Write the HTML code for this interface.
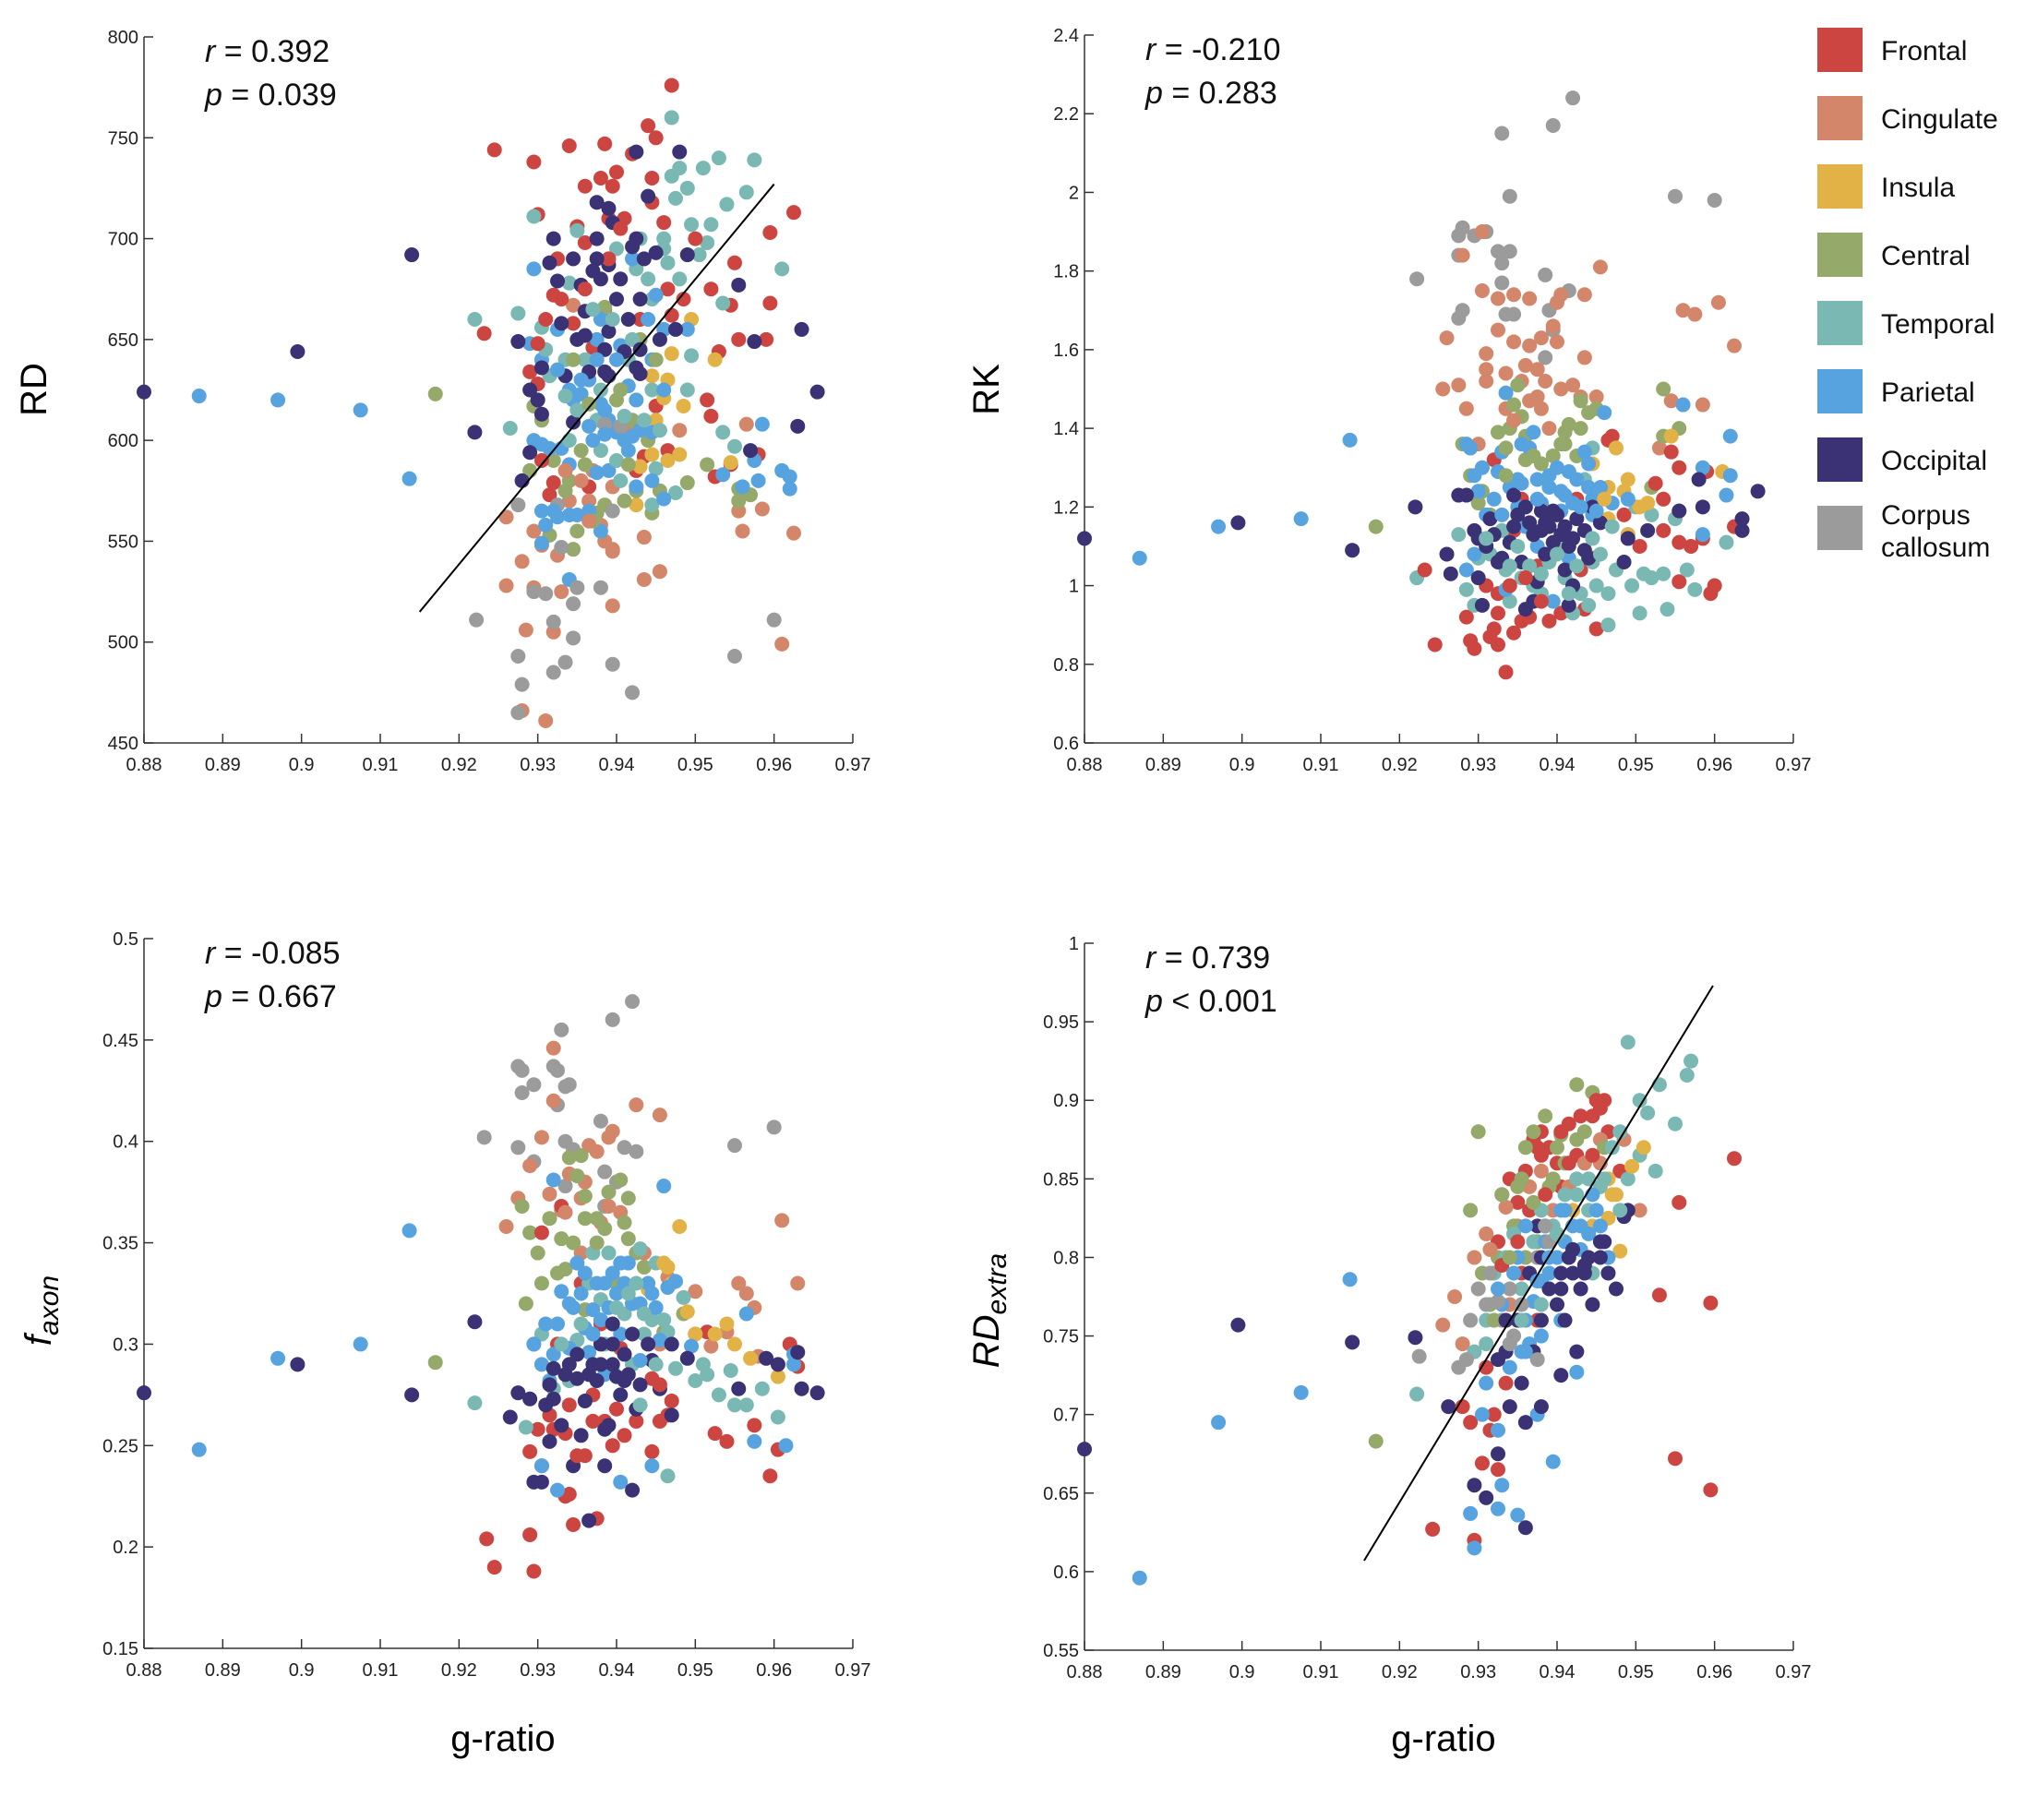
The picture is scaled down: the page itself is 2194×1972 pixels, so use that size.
<!DOCTYPE html>
<html><head><meta charset="utf-8"><style>
html,body{margin:0;padding:0;background:#fff;}
svg{display:block;font-family:"Liberation Sans",sans-serif;}
</style></head><body>
<svg id="fig" width="2194" height="1972" viewBox="0 0 2194 1972" xmlns="http://www.w3.org/2000/svg"></svg>
<script>
const regionNames=["Frontal","Cingulate","Insula","Central","Temporal","Parietal","Occipital","Corpus callosum"];
const regionColors=["#cc4541","#d4866a","#e3b246","#95a96a","#7ab8b4","#56a3e0","#3a3274","#9b9b9b"];
const xTicks=[0.88,0.89,0.9,0.91,0.92,0.93,0.94,0.95,0.96,0.97];
const xTickLabels=["0.88","0.89","0.9","0.91","0.92","0.93","0.94","0.95","0.96","0.97"];

const rdTicks=[450,500,550,600,650,700,750,800];
const rdPts=[[.880,624,6],[.887,622,5],[.897,620,5],[.8995,644,6],[.9075,615,5],[.914,692,6],[.9137,581,5],[.917,623,3],[.922,604,6],[.9232,653,0],[.9245,744,0],[.9222,511,7],[.922,660,4],
[.9295,738,0],[.934,746,0],[.9385,747,0],[.942,742,0],[.944,756,0],[.945,750,0],[.947,776,0],[.940,733,0],[.9445,730,0],[.9395,726,0],[.936,726,0],[.938,730,0],[.9445,718,0],[.941,710,0],[.946,708,0],[.939,710,0],[.935,706,0],[.930,712,0],[.9325,690,0],[.936,698,0],[.932,672,0],[.9385,665,0],[.943,660,0],[.9465,675,0],[.947,662,0],[.952,675,0],[.955,688,0],[.9595,703,0],[.9625,713,0],[.9595,668,0],[.9545,667,0],[.9555,650,0],[.959,650,0],[.953,644,0],[.945,617,0],[.9515,620,0],[.952,612,0],[.9525,582,0],[.9545,588,0],[.958,593,0],[.9465,595,0],[.929,634,0],[.930,628,0],[.932,579,0],[.9315,573,0],[.9365,577,0],[.9425,585,0],[.9435,592,0],[.9345,658,0],[.937,646,0],
[.926,562,1],[.928,540,1],[.926,528,1],[.9285,506,1],[.9295,527,1],[.932,505,1],[.928,466,1],[.931,461,1],[.9295,555,1],[.9305,548,1],[.9325,543,1],[.933,525,1],[.9365,570,1],[.938,558,1],[.9385,550,1],[.9395,546,1],[.9395,518,1],[.9435,531,1],[.9435,552,1],[.9455,535,1],[.9415,605,1],[.948,605,1],[.9565,608,1],[.9555,565,1],[.956,555,1],[.9585,566,1],[.9625,554,1],[.961,499,1],[.934,570,1],[.937,585,1],[.9395,577,1],[.9345,667,1],
[.9495,660,2],[.9485,617,2],[.9465,630,2],[.945,610,2],[.9445,593,2],[.943,587,2],[.9425,568,2],[.9465,590,2],[.948,593,2],[.9545,589,2],[.9525,640,2],[.947,643,2],[.946,621,2],[.9445,632,2],
[.9295,617,3],[.9305,610,3],[.932,590,3],[.9335,575,3],[.934,580,3],[.9345,546,3],[.935,555,3],[.936,588,3],[.9375,564,3],[.9385,568,3],[.940,620,3],[.942,610,3],[.9425,575,3],[.943,650,3],[.9445,564,3],[.9455,575,3],[.949,579,3],[.9515,588,3],[.9555,576,3],[.9555,570,3],[.957,573,3],[.9385,666,3],[.944,600,3],[.9315,553,3],[.929,585,3],
[.9295,711,4],[.9275,663,4],[.9265,606,4],[.9305,656,4],[.935,704,4],[.934,678,4],[.940,695,4],[.9425,685,4],[.943,700,4],[.946,695,4],[.947,731,4],[.947,760,4],[.948,735,4],[.949,725,4],[.951,735,4],[.953,740,4],[.9575,739,4],[.9565,723,4],[.954,717,4],[.952,707,4],[.9495,707,4],[.9505,692,4],[.9515,698,4],[.961,685,4],[.9535,668,4],[.9475,720,4],[.9445,670,4],[.9465,688,4],[.9495,642,4],[.9535,604,4],[.955,597,4],[.949,625,4],[.945,586,4],[.9445,568,4],[.9475,574,4],[.9405,580,4],[.9375,610,4],[.936,640,4],[.9335,640,4],[.938,625,4],[.9415,640,4],[.9315,632,4],
[.9295,685,5],[.929,648,5],[.9295,600,5],[.9305,598,5],[.9315,596,5],[.933,596,5],[.934,588,5],[.9305,565,5],[.931,558,5],[.9305,549,5],[.9325,562,5],[.934,563,5],[.935,563,5],[.9365,565,5],[.9375,584,5],[.939,585,5],[.938,555,5],[.934,531,5],[.9345,620,5],[.934,625,5],[.9355,623,5],[.9365,630,5],[.938,618,5],[.939,610,5],[.940,604,5],[.941,600,5],[.942,602,5],[.943,605,5],[.9445,604,5],[.9425,577,5],[.9445,580,5],[.946,571,5],[.9405,647,5],[.938,660,5],[.9375,650,5],[.9325,655,5],[.9305,640,5],[.946,655,5],[.945,672,5],[.942,690,5],[.949,655,5],[.9535,583,5],[.956,577,5],[.9575,590,5],[.958,580,5],[.9585,608,5],[.961,585,5],[.962,582,5],[.962,576,5],[.9445,640,5],[.9415,627,5],[.9365,607,5],
[.928,580,6],[.9275,649,6],[.929,625,6],[.930,620,6],[.929,594,6],[.9305,613,6],[.9305,636,6],[.9315,688,6],[.932,700,6],[.9325,679,6],[.933,658,6],[.9335,632,6],[.9345,609,6],[.935,650,6],[.9355,677,6],[.936,664,6],[.937,684,6],[.9375,718,6],[.9375,700,6],[.938,680,6],[.9385,645,6],[.939,715,6],[.939,687,6],[.939,654,6],[.9395,708,6],[.9405,680,6],[.940,670,6],[.941,644,6],[.9415,660,6],[.942,696,6],[.9425,743,6],[.943,670,6],[.943,633,6],[.944,721,6],[.9435,690,6],[.945,693,6],[.9455,650,6],[.948,743,6],[.949,692,6],[.9555,677,6],[.9575,649,6],[.957,595,6],[.9635,655,6],[.963,607,6],[.9655,624,6],[.9365,634,6],[.9385,634,6],[.9425,636,6],
[.9275,568,7],[.9275,493,7],[.928,479,7],[.9275,465,7],[.9295,525,7],[.931,524,7],[.932,510,7],[.9325,568,7],[.933,547,7],[.9335,490,7],[.932,485,7],[.9345,519,7],[.9345,502,7],[.935,527,7],[.938,527,7],[.9395,489,7],[.942,475,7],[.9385,608,7],[.9395,565,7],[.9405,607,7],[.955,493,7],[.96,511,7]];
const rdCore=[[.931,645,4],[.9325,635,5],[.9335,622,4],[.9345,640,3],[.935,615,4],[.9355,630,5],[.936,652,6],[.9365,618,3],[.937,665,4],[.9375,640,5],[.938,595,4],[.9385,615,5],[.939,632,6],[.9395,660,4],[.940,640,5],[.9405,625,3],[.941,612,4],[.9415,595,5],[.942,650,4],[.9425,620,5],[.943,645,6],[.9435,610,4],[.944,660,5],[.9445,625,4],[.945,640,3],[.9455,605,4],[.946,625,5],[.934,600,4],[.9355,595,3],[.937,600,5],[.9385,603,5],[.940,590,4],[.9415,588,3],[.936,675,0],[.939,690,0],[.9405,705,0],[.9425,700,6],[.9375,690,6],[.9345,690,6],[.933,670,0],[.931,660,0],[.930,648,0],[.9305,590,0],[.9335,585,1],[.9355,580,1],[.937,560,3],[.941,570,3],[.9395,545,1],[.9365,560,1],[.932,565,5],[.944,680,4],[.946,700,4],[.948,680,4],[.950,700,0],[.9475,655,6],[.9485,670,0]];
const rdFit=[[0.915,515],[0.96,727]];

const rkTicks=[0.6,0.8,1,1.2,1.4,1.6,1.8,2,2.2,2.4];
const rkPts=[[.880,1.12,6],[.887,1.07,5],[.897,1.15,5],[.8995,1.16,6],[.9075,1.17,5],[.9137,1.37,5],[.914,1.09,6],[.917,1.15,3],[.922,1.20,6],[.9222,1.02,4],[.9232,1.04,0],[.9245,0.85,0],[.9222,1.78,7],
[.9275,1.89,7],[.928,1.91,7],[.9295,1.89,7],[.9275,1.84,7],[.9275,1.68,7],[.928,1.70,7],[.933,2.15,7],[.934,1.99,7],[.9325,1.85,7],[.934,1.85,7],[.933,1.82,7],[.933,1.77,7],[.9335,1.69,7],[.9345,1.69,7],[.931,1.90,7],[.9395,2.17,7],[.942,2.24,7],[.9385,1.79,7],[.9415,1.75,7],[.939,1.70,7],[.9395,1.65,7],[.9385,1.58,7],[.955,1.99,7],[.960,1.98,7],
[.9305,1.90,1],[.928,1.84,1],[.926,1.63,1],[.9255,1.50,1],[.9275,1.51,1],[.9285,1.45,1],[.9305,1.75,1],[.9325,1.73,1],[.9345,1.74,1],[.9365,1.73,1],[.940,1.72,1],[.9405,1.74,1],[.9435,1.74,1],[.9455,1.81,1],[.9325,1.65,1],[.9345,1.62,1],[.9365,1.61,1],[.938,1.63,1],[.9395,1.66,1],[.940,1.62,1],[.931,1.59,1],[.931,1.55,1],[.931,1.52,1],[.9335,1.54,1],[.9355,1.52,1],[.936,1.56,1],[.9375,1.55,1],[.9385,1.52,1],[.9405,1.50,1],[.942,1.51,1],[.9435,1.58,1],[.945,1.48,1],[.943,1.48,1],[.9335,1.45,1],[.9365,1.47,1],[.938,1.45,1],[.956,1.70,1],[.9575,1.69,1],[.9605,1.72,1],[.9625,1.61,1],[.9585,1.46,1],[.9545,1.47,1],[.953,1.35,1],[.930,1.36,1],
[.928,1.36,3],[.929,1.35,3],[.929,1.28,3],[.930,1.21,3],[.9325,1.39,3],[.933,1.34,3],[.934,1.40,3],[.9345,1.46,3],[.935,1.51,3],[.9355,1.43,3],[.936,1.38,3],[.936,1.32,3],[.938,1.31,3],[.9395,1.33,3],[.941,1.39,3],[.941,1.36,3],[.9415,1.41,3],[.9425,1.33,3],[.943,1.47,3],[.944,1.44,3],[.945,1.45,3],[.9535,1.50,3],[.9555,1.40,3],[.9535,1.38,3],[.952,1.25,3],[.9305,1.24,3],[.9315,1.18,3],
[.9295,0.84,0],[.929,0.86,0],[.9285,0.92,0],[.9315,0.87,0],[.932,0.89,0],[.9325,0.85,0],[.9335,0.78,0],[.9345,0.88,0],[.9355,0.91,0],[.9365,0.92,0],[.939,0.91,0],[.9405,0.93,0],[.9435,0.94,0],[.945,0.89,0],[.9325,0.98,0],[.931,1.00,0],[.932,1.32,0],[.9355,1.22,0],[.9385,1.19,0],[.9425,1.22,0],[.9465,1.37,0],[.947,1.38,0],[.9525,1.26,0],[.9535,1.22,0],[.9545,1.34,0],[.9555,1.30,0],[.959,1.29,0],[.9585,1.12,0],[.957,1.10,0],[.9535,1.14,0],[.9505,1.10,0],[.9555,1.11,0],[.9595,0.98,0],[.960,1.00,0],[.9555,1.01,0],[.9485,1.18,0],[.9445,1.07,0],[.943,1.04,0],[.9375,1.05,0],[.9345,1.14,0],[.9625,1.15,0],
[.9275,1.13,4],[.9285,0.99,4],[.9295,0.95,4],[.930,1.07,4],[.9315,1.08,4],[.933,1.14,4],[.9335,1.04,4],[.934,0.96,4],[.9355,1.02,4],[.937,1.00,4],[.938,0.98,4],[.939,1.06,4],[.9405,1.10,4],[.941,1.02,4],[.942,0.93,4],[.943,0.98,4],[.9445,1.06,4],[.945,1.00,4],[.9465,0.90,4],[.9465,0.98,4],[.9475,1.04,4],[.949,1.13,4],[.9495,1.00,4],[.950,1.20,4],[.951,1.03,4],[.9505,0.93,4],[.952,1.02,4],[.952,1.18,4],[.9535,1.03,4],[.954,0.94,4],[.955,1.17,4],[.9565,1.04,4],[.9575,0.99,4],[.9615,1.11,4],[.9445,1.35,4],[.9435,1.27,4],
[.9445,1.31,2],[.9465,1.25,2],[.9475,1.35,2],[.949,1.27,2],[.9505,1.20,2],[.9515,1.21,2],[.9485,1.24,2],[.9465,1.17,2],[.9545,1.38,2],[.9555,1.19,2],[.961,1.29,2],[.949,1.13,2],
[.9285,1.36,5],[.929,1.35,5],[.9295,1.28,5],[.930,1.24,5],[.9295,1.08,5],[.9285,1.04,5],[.931,1.18,5],[.9325,1.29,5],[.933,1.34,5],[.9335,1.49,5],[.934,1.25,5],[.935,1.20,5],[.935,1.27,5],[.9365,1.35,5],[.937,1.39,5],[.9375,1.27,5],[.938,1.21,5],[.939,1.25,5],[.940,1.30,5],[.9405,1.19,5],[.941,1.23,5],[.942,1.21,5],[.9425,1.27,5],[.9435,1.34,5],[.944,1.31,5],[.9445,1.22,5],[.9455,1.25,5],[.946,1.44,5],[.947,1.21,5],[.949,1.22,5],[.956,1.46,5],[.9585,1.30,5],[.9615,1.23,5],[.962,1.38,5],[.962,1.28,5],[.9585,1.13,5],[.9395,0.96,5],[.9335,0.99,5],[.9415,1.07,5],[.9375,1.10,5],[.9445,1.18,5],[.936,1.15,5],
[.9275,1.23,6],[.926,1.08,6],[.9265,1.03,6],[.9285,1.23,6],[.9295,1.14,6],[.930,1.12,6],[.930,1.02,6],[.9305,0.95,6],[.931,1.10,6],[.9315,1.17,6],[.932,1.13,6],[.933,1.07,6],[.934,1.11,6],[.9345,1.23,6],[.935,1.18,6],[.9355,1.06,6],[.9365,1.16,6],[.936,0.94,6],[.937,0.96,6],[.9375,1.01,6],[.938,1.14,6],[.938,1.19,6],[.9385,1.08,6],[.939,1.15,6],[.9395,1.11,6],[.940,1.18,6],[.9405,1.13,6],[.941,1.04,6],[.9415,1.10,6],[.942,1.00,6],[.9425,1.17,6],[.9435,1.14,6],[.9445,1.20,6],[.944,1.07,6],[.9455,1.16,6],[.9485,1.06,6],[.949,1.12,6],[.9515,1.14,6],[.9555,1.19,6],[.9585,1.20,6],[.958,1.27,6],[.9635,1.17,6],[.9635,1.14,6],[.9655,1.24,6],[.9415,0.95,6]];
const rkCore=[[.931,1.12,4],[.932,1.22,5],[.9325,1.06,6],[.933,1.18,5],[.9335,1.28,3],[.934,1.05,4],[.9345,1.15,6],[.935,1.10,4],[.9355,1.26,5],[.936,1.20,6],[.9365,1.05,4],[.937,1.13,6],[.9375,1.22,5],[.938,1.03,4],[.9385,1.16,6],[.939,1.28,5],[.9395,1.19,6],[.940,1.08,4],[.9405,1.24,5],[.941,1.15,6],[.9415,1.29,5],[.942,1.12,6],[.9425,1.05,4],[.943,1.20,5],[.9435,1.09,6],[.944,1.25,5],[.9445,1.12,4],[.945,1.19,5],[.9455,1.08,4],[.946,1.22,2],[.947,1.15,4],[.9335,1.35,3],[.937,1.33,3],[.9405,1.36,3],[.943,1.40,3],[.934,1.00,0],[.938,0.96,0],[.936,1.02,0],[.9415,0.98,4],[.944,0.95,4],[.9325,0.93,0],[.9305,1.30,5],[.9355,1.36,5],[.939,1.40,1],[.9345,1.42,1],[.9375,1.48,1]];

const faTicks=[0.15,0.2,0.25,0.3,0.35,0.4,0.45,0.5];
const faPts=[[.880,.276,6],[.887,.248,5],[.897,.293,5],[.8995,.290,6],[.9075,.300,5],[.9137,.356,5],[.914,.275,6],[.917,.291,3],[.922,.311,6],[.922,.271,4],[.9232,.402,7],[.9235,.204,0],[.9245,.190,0],
[.9275,.437,7],[.928,.435,7],[.928,.424,7],[.9295,.428,7],[.9275,.397,7],[.9295,.390,7],[.932,.437,7],[.9325,.435,7],[.933,.455,7],[.9335,.427,7],[.934,.428,7],[.9325,.418,7],[.9335,.400,7],[.9345,.396,7],[.9335,.378,7],[.938,.410,7],[.9395,.460,7],[.942,.469,7],[.9385,.385,7],[.940,.380,7],[.941,.397,7],[.9425,.395,7],[.9385,.368,7],[.955,.398,7],[.960,.407,7],
[.929,.388,1],[.9275,.372,1],[.926,.358,1],[.9305,.402,1],[.932,.446,1],[.932,.420,1],[.9315,.374,1],[.933,.366,1],[.934,.384,1],[.9355,.372,1],[.936,.380,1],[.9365,.398,1],[.9375,.395,1],[.938,.360,1],[.939,.402,1],[.9395,.405,1],[.9425,.418,1],[.9455,.413,1],[.9405,.365,1],[.9435,.345,1],[.942,.320,1],[.9465,.333,1],[.950,.326,1],[.9555,.330,1],[.9565,.325,1],[.9575,.318,1],[.961,.361,1],[.963,.330,1],[.954,.306,1],[.952,.299,1],[.958,.294,1],[.9455,.300,1],[.9355,.345,1],
[.928,.368,3],[.929,.355,3],[.9285,.320,3],[.930,.345,3],[.9315,.362,3],[.933,.352,3],[.934,.392,3],[.935,.383,3],[.9355,.393,3],[.936,.373,3],[.9375,.362,3],[.9385,.357,3],[.939,.375,3],[.9405,.381,3],[.941,.360,3],[.9415,.352,3],[.9425,.345,3],[.9435,.338,3],[.9335,.337,3],[.9305,.330,3],[.9295,.300,3],[.946,.306,3],[.9485,.315,3],[.936,.317,3],[.940,.330,3],
[.929,.206,0],[.9295,.188,0],[.9335,.225,0],[.934,.226,0],[.9345,.211,0],[.9375,.214,0],[.9305,.240,0],[.932,.258,0],[.9315,.265,0],[.930,.258,0],[.929,.247,0],[.9335,.256,0],[.936,.245,0],[.937,.275,0],[.9385,.262,0],[.9395,.250,0],[.941,.255,0],[.9425,.262,0],[.9445,.247,0],[.9455,.262,0],[.9465,.265,0],[.9525,.256,0],[.954,.252,0],[.9575,.260,0],[.9595,.235,0],[.9605,.248,0],[.962,.300,0],[.963,.289,0],[.950,.305,0],[.947,.272,0],[.9325,.300,0],[.9305,.355,0],[.933,.368,0],[.9355,.330,0],[.938,.310,0],[.9405,.298,0],[.9445,.283,0],[.9515,.306,0],
[.9305,.305,4],[.9285,.259,4],[.932,.278,4],[.934,.282,4],[.935,.302,4],[.9365,.330,4],[.938,.322,4],[.9385,.300,4],[.9395,.287,4],[.941,.315,4],[.942,.290,4],[.9435,.305,4],[.9445,.312,4],[.9465,.306,4],[.9475,.288,4],[.9485,.323,4],[.950,.282,4],[.951,.290,4],[.9515,.285,4],[.953,.275,4],[.9545,.287,4],[.955,.270,4],[.9565,.270,4],[.9585,.278,4],[.9605,.264,4],[.9465,.235,4],[.943,.347,4],[.945,.340,4],[.937,.345,4],
[.948,.358,2],[.9465,.338,2],[.947,.330,2],[.949,.316,2],[.950,.305,2],[.9525,.305,2],[.954,.310,2],[.955,.300,2],[.957,.293,2],[.9605,.284,2],[.946,.340,2],[.944,.327,2],
[.932,.381,5],[.9295,.300,5],[.9305,.290,5],[.9315,.282,5],[.932,.295,5],[.9325,.310,5],[.933,.326,5],[.9345,.318,5],[.935,.340,5],[.9355,.325,5],[.936,.308,5],[.9365,.296,5],[.937,.317,5],[.9375,.330,5],[.938,.312,5],[.939,.318,5],[.9395,.335,5],[.940,.325,5],[.9405,.305,5],[.941,.330,5],[.9415,.340,5],[.942,.320,5],[.943,.320,5],[.944,.330,5],[.945,.318,5],[.946,.378,5],[.9465,.328,5],[.9475,.331,5],[.9495,.299,5],[.9565,.315,5],[.9575,.252,5],[.9615,.250,5],[.9625,.295,5],[.9625,.290,5],[.9305,.240,5],[.9325,.228,5],[.9405,.232,5],[.9445,.240,5],[.9385,.285,5],[.934,.298,5],[.9455,.302,5],
[.9275,.276,6],[.9265,.264,6],[.929,.273,6],[.9295,.232,6],[.9305,.232,6],[.931,.270,6],[.9315,.280,6],[.932,.273,6],[.933,.260,6],[.934,.290,6],[.935,.283,6],[.9355,.255,6],[.936,.272,6],[.9365,.213,6],[.937,.290,6],[.9375,.282,6],[.938,.300,6],[.9385,.258,6],[.939,.260,6],[.9395,.290,6],[.940,.284,6],[.9405,.275,6],[.941,.295,6],[.9415,.285,6],[.942,.228,6],[.9425,.268,6],[.943,.280,6],[.9445,.292,6],[.9455,.278,6],[.947,.265,6],[.949,.293,6],[.9555,.278,6],[.959,.293,6],[.9605,.290,6],[.963,.296,6],[.9635,.278,6],[.9655,.276,6],[.9395,.310,6],[.9345,.240,6]];
const faCore=[[.931,.310,5],[.932,.288,6],[.9325,.335,3],[.933,.300,4],[.9335,.285,6],[.934,.320,5],[.9345,.350,3],[.935,.295,6],[.9355,.310,4],[.936,.335,5],[.9365,.285,6],[.937,.305,5],[.9375,.350,3],[.938,.290,6],[.9385,.330,5],[.939,.345,4],[.9395,.300,6],[.940,.318,4],[.9405,.340,5],[.941,.282,6],[.9415,.325,4],[.942,.305,6],[.9425,.330,4],[.943,.292,5],[.9435,.315,4],[.944,.300,6],[.9445,.325,5],[.945,.290,4],[.946,.312,4],[.947,.300,6],[.9335,.365,1],[.936,.362,3],[.939,.368,1],[.9415,.372,3],[.934,.270,0],[.937,.262,0],[.940,.268,0],[.943,.270,4],[.9455,.280,0],[.9315,.252,6],[.935,.245,0],[.9385,.240,6]];

const reTicks=[0.55,0.6,0.65,0.7,0.75,0.8,0.85,0.9,0.95,1];
const rePts=[[.880,.678,6],[.887,.596,5],[.897,.695,5],[.8995,.757,6],[.9075,.714,5],[.9137,.786,5],[.914,.746,6],[.917,.683,3],[.922,.749,6],[.9222,.713,4],[.9225,.737,7],[.9242,.627,0],[.9255,.757,1],[.9262,.705,6],
[.9295,.620,0],[.9305,.669,0],[.9325,.665,0],[.9315,.690,0],[.928,.705,0],[.929,.695,0],[.932,.700,0],[.9335,.720,0],[.931,.730,0],[.9325,.810,0],[.933,.840,0],[.934,.850,0],[.935,.835,0],[.936,.855,0],[.937,.875,0],[.9375,.870,0],[.938,.880,0],[.939,.870,0],[.940,.860,0],[.9415,.885,0],[.943,.890,0],[.9445,.890,0],[.9455,.895,0],[.946,.900,0],[.9465,.880,0],[.9425,.865,0],[.9405,.845,0],[.9365,.830,0],[.9385,.820,0],[.9355,.790,0],[.953,.776,0],[.955,.672,0],[.9555,.835,0],[.9595,.771,0],[.9595,.652,0],[.9625,.863,0],[.948,.855,0],[.9375,.760,0],
[.927,.775,1],[.928,.745,1],[.9295,.800,1],[.931,.815,1],[.9335,.832,1],[.935,.820,1],[.9365,.845,1],[.938,.855,1],[.9395,.830,1],[.9415,.845,1],[.9435,.860,1],[.9455,.875,1],[.9485,.875,1],[.9505,.830,1],[.9455,.860,1],[.934,.770,1],
[.930,.880,3],[.929,.830,3],[.9305,.790,3],[.9325,.800,3],[.933,.840,3],[.9345,.820,3],[.935,.845,3],[.936,.870,3],[.937,.880,3],[.9385,.890,3],[.940,.870,3],[.9405,.878,3],[.9425,.910,3],[.9435,.880,3],[.941,.860,3],[.939,.845,3],[.9375,.810,3],[.936,.800,3],[.9445,.905,3],[.946,.870,3],[.9315,.770,3],
[.9295,.740,4],[.931,.760,4],[.932,.790,4],[.9335,.800,4],[.9345,.815,4],[.9355,.780,4],[.937,.810,4],[.938,.830,4],[.9395,.820,4],[.941,.840,4],[.9425,.850,4],[.944,.830,4],[.9455,.845,4],[.947,.870,4],[.948,.880,4],[.949,.937,4],[.9505,.900,4],[.9515,.892,4],[.953,.910,4],[.955,.885,4],[.9565,.916,4],[.957,.925,4],[.9505,.865,4],[.9525,.855,4],[.949,.850,4],[.9445,.790,4],[.9415,.800,4],
[.9495,.858,2],[.951,.870,2],[.9475,.840,2],[.9465,.825,2],[.948,.804,2],[.9445,.820,2],[.9465,.850,2],[.942,.830,2],
[.9295,.615,5],[.929,.637,5],[.9325,.640,5],[.935,.636,5],[.933,.655,5],[.9305,.700,5],[.931,.720,5],[.9325,.690,5],[.934,.730,5],[.9355,.740,5],[.936,.760,5],[.937,.772,5],[.938,.785,5],[.939,.790,5],[.940,.800,5],[.941,.810,5],[.942,.820,5],[.943,.805,5],[.944,.815,5],[.9455,.820,5],[.9465,.800,5],[.9375,.700,5],[.9395,.670,5],[.9425,.727,5],[.9365,.745,5],[.9385,.810,5],[.9405,.830,5],[.935,.800,5],[.933,.770,5],[.9445,.840,5],[.938,.750,5],[.9405,.760,5],
[.9295,.655,6],[.931,.647,6],[.9325,.675,6],[.934,.705,6],[.936,.628,6],[.9355,.720,6],[.937,.740,6],[.938,.760,6],[.939,.780,6],[.940,.770,6],[.9405,.790,6],[.941,.760,6],[.9415,.800,6],[.942,.790,6],[.943,.780,6],[.9435,.790,6],[.944,.800,6],[.9445,.770,6],[.9455,.800,6],[.946,.810,6],[.9465,.790,6],[.9485,.826,6],[.949,.830,6],[.9475,.780,6],[.938,.705,6],[.936,.695,6],[.9335,.740,6],[.9405,.725,6],[.9425,.740,6],[.9375,.820,6],[.935,.760,6],
[.9275,.730,7],[.9285,.735,7],[.929,.760,7],[.930,.780,7],[.931,.770,7],[.9315,.790,7],[.9325,.772,7],[.933,.760,7],[.934,.780,7],[.9345,.750,7],[.9355,.770,7],[.9375,.800,7],[.9375,.735,7],[.939,.810,7],[.9385,.820,7]];
const reCore=[[.931,.745,4],[.932,.760,3],[.9325,.780,5],[.933,.795,0],[.9335,.760,6],[.934,.800,3],[.9345,.790,5],[.935,.810,0],[.9355,.760,4],[.936,.820,5],[.9365,.790,6],[.937,.835,3],[.9375,.785,5],[.938,.800,6],[.9385,.840,0],[.939,.800,5],[.9395,.850,3],[.940,.815,4],[.9405,.780,6],[.941,.830,5],[.9415,.860,0],[.942,.805,6],[.9425,.840,4],[.943,.820,5],[.9435,.795,6],[.944,.850,4],[.9445,.865,0],[.945,.830,5],[.9455,.810,6],[.946,.850,4],[.947,.840,2],[.948,.830,4],[.9325,.735,6],[.934,.745,7],[.936,.740,5],[.938,.770,4],[.9315,.805,1],[.9355,.850,3],[.938,.865,0],[.9405,.880,0],[.9425,.875,3],[.945,.900,0]];
const reFit=[[0.9155,0.607],[0.9598,0.973]];

const NS="http://www.w3.org/2000/svg";
const svg=document.getElementById('fig');
function mk(tag,attrs,parent){const e=document.createElementNS(NS,tag);for(const k in attrs)e.setAttribute(k,attrs[k]);(parent||svg).appendChild(e);return e;}

function panel(cfg){
  const g=mk('g',{});
  
  
  const xs=v=>cfg.x0+(v-0.88)/(0.97-0.88)*(cfg.x1-cfg.x0);
  const ys=v=>cfg.yb-(v-cfg.ymin)/(cfg.ymax-cfg.ymin)*(cfg.yb-cfg.yt);
  const ax=mk('line',{x1:cfg.x0,y1:cfg.yb,x2:cfg.x1,y2:cfg.yb,stroke:'#333','stroke-width':1.5},g);
  
  
  const ay=mk('line',{x1:cfg.x0,y1:cfg.yt,x2:cfg.x0,y2:cfg.yb,stroke:'#333','stroke-width':1.5},g);
  
  
  xTicks.forEach((t,i)=>{
    const x=xs(t);
    mk('line',{x1:x,y1:cfg.yb,x2:x,y2:cfg.yb-10,stroke:'#333','stroke-width':1.5},g);
    const tx=mk('text',{x:x,y:cfg.yb+30,'text-anchor':'middle','font-size':20,fill:'#222'},g);
    tx.textContent=xTickLabels[i];
    
    
  });
  cfg.ticks.forEach(t=>{
    const y=ys(t);
    mk('line',{x1:cfg.x0,y1:y,x2:cfg.x0+10,y2:y,stroke:'#333','stroke-width':1.5},g);
    const tx=mk('text',{x:cfg.x0-6,y:y+7,'text-anchor':'end','font-size':20,fill:'#222'},g);
    tx.textContent=String(t);
    
    
  });
  cfg.pts.forEach(p=>{
    const c=mk('circle',{cx:xs(p[0]),cy:ys(p[1]),r:8,fill:regionColors[p[2]]},g);
    
    
  });
  if(cfg.fit){
    const l=mk('line',{x1:xs(cfg.fit[0][0]),y1:ys(cfg.fit[0][1]),x2:xs(cfg.fit[1][0]),y2:ys(cfg.fit[1][1]),stroke:'#000','stroke-width':2},g);
    
    
  }
  const st=mk('text',{x:cfg.x0+66,y:cfg.yt+27,'font-size':34,fill:'#111'},g);
  st.innerHTML='<tspan font-style="italic">r</tspan> = '+cfg.r;
  
  
  const sp=mk('text',{x:cfg.x0+66,y:cfg.yt+74,'font-size':34,fill:'#111'},g);
  sp.innerHTML='<tspan font-style="italic">p</tspan> '+cfg.p;
  
  
  const yl=mk('text',{x:0,y:0,'font-size':40,fill:'#000','text-anchor':'middle',transform:`translate(${cfg.ylx},${cfg.yly}) rotate(-90)`},g);
  yl.innerHTML=cfg.ylabel;
  
  
  if(cfg.xlabel){
    const xl=mk('text',{x:(cfg.x0+cfg.x1)/2+5,y:1897,'font-size':40,fill:'#000','text-anchor':'middle'},g);
    xl.textContent='g-ratio';
    
    
  }
}
panel({name:'rd-panel',x0:156,x1:924,yt:40,yb:805,ymin:450,ymax:800,ticks:rdTicks,pts:rdPts.concat(rdCore),fit:rdFit,r:'0.392',p:'= 0.039',ylabel:'RD',ylx:50,yly:422});
panel({name:'rk-panel',x0:1175,x1:1943,yt:38,yb:805,ymin:0.6,ymax:2.4,ticks:rkTicks,pts:rkPts.concat(rkCore),r:'-0.210',p:'= 0.283',ylabel:'RK',ylx:1082,yly:422});
panel({name:'faxon-panel',x0:156,x1:924,yt:1017,yb:1786,ymin:0.15,ymax:0.5,ticks:faTicks,pts:faPts.concat(faCore),r:'-0.085',p:'= 0.667',ylabel:'<tspan font-style="italic">f</tspan><tspan font-style="italic" font-size="30" dy="8">axon</tspan>',ylx:55,yly:1420,xlabel:true});
panel({name:'rdextra-panel',x0:1175,x1:1943,yt:1022,yb:1788,ymin:0.55,ymax:1,ticks:reTicks,pts:rePts.concat(reCore),fit:reFit,r:'0.739',p:'&lt; 0.001',ylabel:'<tspan font-style="italic">RD</tspan><tspan font-style="italic" font-size="30" dy="8">extra</tspan>',ylx:1082,yly:1420,xlabel:true});

const lg=mk('g',{});


regionNames.forEach((n,i)=>{
  const y=30+i*74;
  const r=mk('rect',{x:1969,y:y,width:49,height:48,fill:regionColors[i]},lg);
  
  
  const t=mk('text',{x:2038,y:y+35,'font-size':30,fill:'#111'},lg);
  if(i===7){t.innerHTML='<tspan x="2038" y="'+(y+20)+'">Corpus</tspan><tspan x="2038" y="'+(y+55)+'">callosum</tspan>';}
  else t.textContent=n;
  
  
});
</script>
</body></html>
